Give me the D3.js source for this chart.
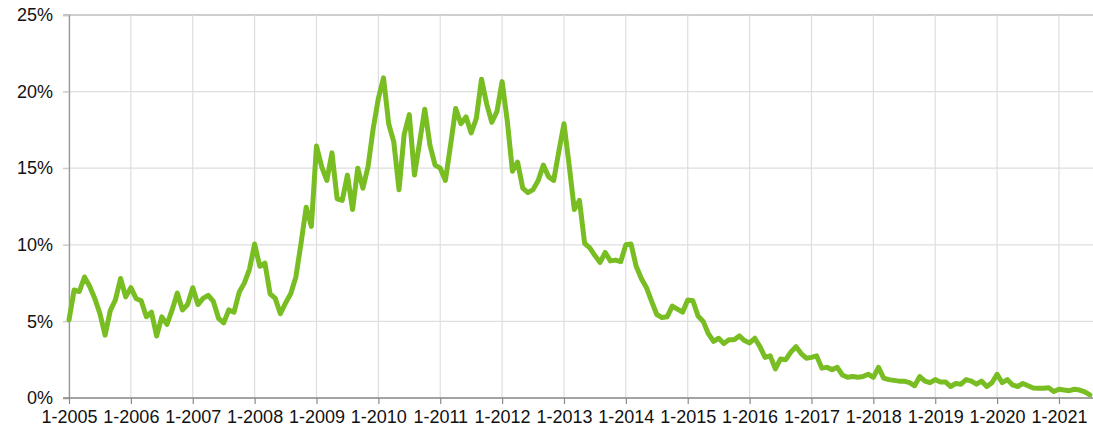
<!DOCTYPE html>
<html>
<head>
<meta charset="utf-8">
<script src="https://cdn.jsdelivr.net/npm/d3@7"></script>
<style>
    body{margin:0;background:#fff;}
    svg{display:block;}
    text{font-family:"Liberation Sans",Arial,Helvetica,sans-serif;font-size:18px;fill:#111;}
</style>
</head>
<body>
<svg width="1093" height="433"></svg>
<script>

//Data - monthly share in %, starting 1-2005
var startYear=2005;
var rate=[
    5.1,7.05,6.95,7.9,7.3,6.5,5.5,4.1,5.7,6.4,7.8,6.6,           //2005
    7.2,6.5,6.35,5.3,5.6,4.05,5.3,4.8,5.75,6.85,5.75,6.1,        //2006
    7.2,6.1,6.5,6.7,6.3,5.2,4.9,5.75,5.6,6.9,7.5,8.4,            //2007
    10.05,8.6,8.8,6.8,6.5,5.5,6.2,6.8,7.9,10.1,12.45,11.2,       //2008
    16.45,15.1,14.2,16.0,13.0,12.9,14.55,12.3,15.0,13.7,15.1,17.6, //2009
    19.55,20.9,17.9,16.7,13.6,17.2,18.5,14.55,16.7,18.85,16.5,15.2, //2010
    15.0,14.2,16.5,18.9,17.9,18.35,17.3,18.25,20.8,19.2,18.0,18.7,  //2011
    20.65,18.1,14.8,15.4,13.7,13.4,13.6,14.2,15.2,14.45,14.2,16.1,  //2012
    17.9,15.2,12.3,12.9,10.1,9.8,9.3,8.85,9.5,8.95,9.0,8.9,         //2013
    10.0,10.05,8.6,7.8,7.2,6.3,5.45,5.25,5.3,6.0,5.8,5.6,           //2014
    6.4,6.35,5.35,5.0,4.2,3.7,3.9,3.55,3.8,3.8,4.05,3.75,           //2015
    3.6,3.9,3.35,2.65,2.75,1.9,2.55,2.5,3.0,3.35,2.9,2.6,           //2016
    2.65,2.75,1.95,2.0,1.85,2.0,1.5,1.35,1.4,1.35,1.4,1.55,         //2017
    1.35,2.0,1.3,1.2,1.15,1.1,1.1,1.0,0.8,1.4,1.1,1.0,              //2018
    1.2,1.05,1.05,0.75,0.95,0.9,1.2,1.1,0.9,1.1,0.75,1.0,           //2019
    1.55,1.0,1.2,0.85,0.75,0.95,0.8,0.65,0.63,0.63,0.67,0.42,       //2020
    0.57,0.52,0.48,0.57,0.52,0.4,0.2                                //2021
];

//Tick labels
var yearLabels=["1-2005","1-2006","1-2007","1-2008","1-2009","1-2010","1-2011","1-2012",
    "1-2013","1-2014","1-2015","1-2016","1-2017","1-2018","1-2019","1-2020","1-2021"];
var yTicks=[0,5,10,15,20,25];

var margin={left:69,right:0,top:15,bottom:35};
var width=1093-margin.left-margin.right;
var height=433-margin.top-margin.bottom;
var lineColor="#78bd22";

var svg=d3.select("svg");
var g=svg.append("g")
    .attr("transform","translate("+margin.left+","+margin.top+")");

//x is month index, plot runs a little past the last point
var x=d3.scaleLinear().domain([0,198.6]).range([0,width]);
var y=d3.scaleLinear().domain([0,25]).range([height,0]);

//Horizontal grid
g.append("g").attr("class","ygrid")
    .selectAll("line")
    .data(yTicks)
    .enter()
    .append("line")
    .attr("x1",-6)
    .attr("x2",width)
    .attr("y1",function(d){return y(d);})
    .attr("y2",function(d){return y(d);})
    .attr("stroke",function(d){return d==25?"#a0a0a0":"#dedede";})
    .attr("stroke-width",1.2);

//Vertical grid, one per year
g.append("g").attr("class","xgrid")
    .selectAll("line")
    .data(yearLabels)
    .enter()
    .append("line")
    .attr("x1",function(d,i){return x(i*12);})
    .attr("x2",function(d,i){return x(i*12);})
    .attr("y1",0)
    .attr("y2",height)
    .attr("stroke","#dedede")
    .attr("stroke-width",1.2);

//Y axis
var yAxis=d3.axisLeft(y)
    .tickValues(yTicks)
    .tickSize(6)
    .tickPadding(10)
    .tickFormat(function(d){return d+"%";});
var gy=g.append("g").call(yAxis);
gy.select(".domain").attr("stroke","#9a9a9a").attr("stroke-width",1.3);
gy.selectAll(".tick line").attr("stroke","#c8c8c8");
gy.selectAll(".tick text").attr("font-size",18).attr("font-family",null).attr("fill","#111");

//X axis
var xAxis=d3.axisBottom(x)
    .tickValues(yearLabels.map(function(d,i){return i*12;}))
    .tickSize(6)
    .tickSizeOuter(0)
    .tickPadding(6)
    .tickFormat(function(d){return yearLabels[d/12];});
var gx=g.append("g")
    .attr("transform","translate(0,"+height+")")
    .call(xAxis);
gx.select(".domain").attr("stroke","#8a8a8a").attr("stroke-width",1.5)
    .attr("d","M-6,0H"+width);
gx.selectAll(".tick line").attr("stroke","#8a8a8a").attr("stroke-width",1.2);
gx.selectAll(".tick text").attr("font-size",18).attr("font-family",null).attr("fill","#111");

//The series line
var line=d3.line()
    .x(function(d,i){return x(i);})
    .y(function(d){return y(d);});

g.append("path")
    .datum(rate)
    .attr("fill","none")
    .attr("stroke",lineColor)
    .attr("stroke-width",5)
    .attr("stroke-linejoin","round")
    .attr("stroke-linecap","round")
    .attr("d",line);

</script>
</body>
</html>
